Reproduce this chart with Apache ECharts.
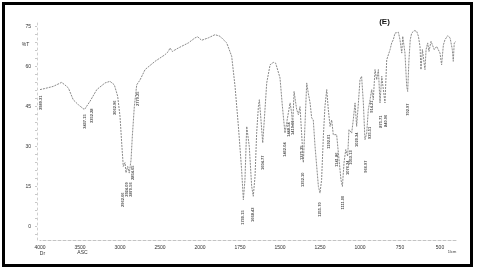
<!DOCTYPE html>
<html>
<head>
<meta charset="utf-8">
<script src="https://cdn.jsdelivr.net/npm/echarts@6/dist/echarts.min.js"></script>
<style>html,body{margin:0;padding:0;background:#fff}#c{width:478px;height:270px}</style>
</head>
<body>
<div id="c"></div>
<script>
// Wavenumber (1/cm) and %T of the spectrum trace
const wavenumber = [4000,3940,3835,3730,3690,3645,3585,3520,3445,3375,3290,3187,3125,3071,3029,3000,2979,2959,2937,2925,2904,2884,2862,2846,2821,2791,2750,2687,2562,2437,2396,2375,2346,2271,2146,2062,2029,
1990,1948,1906,1875,1833,1802,1781,1760,1740,1729,1719,1708,1702,1692,1677,1667,1656,1646,1635,1629,1619,1608,1598,1583,1562,1542,1527,1515,1500,1485,1469,1458,1448,1437,1427,1421,1412,1396,1385,1375,1365,1354,1344,1333,1323,1312,1302,1292,1281,1260,1250,1240,1229,1219,1208,1198,1187,1177,1167,1156,1146,1131,1119,1110,1100,1089,1083,1077,1069,1062,1052,1042,1031,1021,1010,1000,990,979,969,958,948,937,927,917,906,896,885,875,864,854,844,833,812,802,792,781,771,760,750,739,733,725,719,708,702,694,686,677,661,646,635,625,619,610,603,594,587,577,569,556,548,536,521,510,500,490,479,469,452,437,423,417,411,400];
const transmittance = [51.4,51.8,52.6,54.1,53.2,52.0,47.6,45.7,43.9,47.0,51.4,53.9,54.5,53.2,48.9,41.4,31.4,22.6,24.0,20.2,22.6,20.1,25.0,33.9,45.0,53.2,55.0,58.9,62.0,64.5,65.7,67.0,65.7,67.0,68.9,70.8,71.2,
69.9,70.8,72.0,71.4,68.9,63.9,52.6,37.6,21.4,10.1,17.6,37.6,38.2,30.0,15.1,11.4,18.9,35.0,45.1,47.6,40.1,31.4,40.1,53.9,60.7,61.6,61.3,60.7,55.8,45.1,35.1,39.0,42.6,46.4,42.6,37.6,50.7,44.0,42.0,45.0,35.0,24.0,38.0,53.9,50.0,46.4,40.8,40.0,30.1,15.1,12.6,17.6,33.9,45.1,51.4,43.9,37.6,40.0,34.5,35.1,34.5,25.1,17.6,15.1,23.9,28.9,29.5,26.4,36.4,37.0,35.1,40.1,46.4,37.6,46.4,55.1,56.4,46.4,32.6,35.1,43.9,47.6,51.4,47.6,58.9,55.1,58.9,46.4,56.4,57.0,46.4,62.6,66.4,68.9,70.1,72.6,72.0,72.9,70.1,65.1,71.4,71.8,65.1,52.6,50.7,62.6,70.1,72.6,73.5,73.3,71.4,67.6,58.9,66.4,67.0,58.9,66.4,68.9,65.7,69.5,68.9,66.4,67.6,67.2,65.1,60.7,68.1,70.1,71.6,70.8,66.4,62.0,68.9,69.5];

// Peak annotations (position in 1/cm and %T, and printed text)
const peakWn = [3985,3437,3350,3062,2775,2962,2912,2869,2837,1731,1669,1606,1469,1444,1419,1362,1356,1250,1194,1144,1106,1075,1056,1019,962,937,925,869,837,700];
const peakT  = [46.5,39.4,41.6,44.6,48.0,10.1,13.9,13.9,20.2,3.4,4.5,24.0,28.9,36.4,37.1,27.7,17.6,6.4,31.9,25.1,9.0,22.1,25.9,32.6,22.5,35.2,45.0,39.4,39.7,43.9];
const peakText = ['3989.31','3437.15','3352.28','3062.96','2779.25','2962.66','2924.09','2870.56','2854.65','1730.15','1668.43','1604.77','1462.04','1448.54','1419.61','1375.25','1352.10','1255.70','1192.01','1141.86','1111.00','1076.24','1053.13','1020.34','966.97','935.51','914.21','875.71','840.96','702.97'];

// Axis tick labels
const xTickValues = [4000,3500,3000,2500,2000,1750,1500,1250,1000,750,500];
const yTickValues = [0,15,30,45,60,75];

// Scale changes at 2000 1/cm (half scale above 2000)
const toU = w => w > 2000 ? 2000 + (w - 2000) / 2 : w;
const fromU = u => u > 2000 ? 2000 + (u - 2000) * 2 : u;

const lineData = wavenumber.map((w, i) => [toU(w), transmittance[i]]);
const peakData = peakWn.map((w, i) => ({ value: [toU(w), peakT[i]], name: peakText[i] }));
const yMinor = [];
for (let v = -3; v <= 75; v += 3) yMinor.push(v);

const chart = echarts.init(document.getElementById('c'), null, { renderer: 'canvas' });
chart.setOption({
  backgroundColor: '#fff',
  animation: false,
  grid: { left: 40, right: 22, top: 20, bottom: 30 },
  xAxis: {
    type: 'value', inverse: true, min: 400, max: 3000,
    axisLine: { show: true, onZero: false, lineStyle: { color: '#c4c4c4', width: 1, type: [3, 2] } },
    axisTick: { show: false },
    splitLine: { show: false },
    axisLabel: {
      customValues: xTickValues.map(toU),
      formatter: v => String(Math.round(fromU(v))),
      fontSize: 5, color: '#333', margin: 5, fontFamily: 'Liberation Sans'
    }
  },
  yAxis: {
    type: 'value', min: -5, max: 77.5, offset: 3,
    axisLine: { show: true, onZero: false, lineStyle: { color: '#cfcfcf', width: 1, type: [2, 3] } },
    axisTick: { show: true, customValues: yMinor, length: 2, lineStyle: { color: '#c8c8c8' } },
    splitLine: { show: false },
    axisLabel: { customValues: yTickValues, fontSize: 5, color: '#333', margin: 6, fontFamily: 'Liberation Sans' }
  },
  series: [
    {
      type: 'line', data: lineData, showSymbol: false, smooth: false,
      lineStyle: { color: '#8a8a8a', width: 1, type: [2, 1] }
    },
    {
      type: 'scatter', data: peakData, symbolSize: 1, itemStyle: { color: 'rgba(0,0,0,0)' },
      labelLayout: { hideOverlap: false },
      label: {
        show: true, position: 'inside', rotate: 90, formatter: p => p.name,
        fontSize: 4, fontWeight: 'bold', color: '#1a1a1a', fontFamily: 'Liberation Sans'
      }
    }
  ],
  graphic: [
    { type: 'rect', shape: { x: 3.5, y: 3.5, width: 468, height: 262 }, style: { fill: 'none', stroke: '#000', lineWidth: 3 } },
    { type: 'text', x: 384.5, y: 21.5, style: { text: '(E)', font: 'bold 8px Liberation Sans', fill: '#111', align: 'center', verticalAlign: 'middle' } },
    { type: 'text', x: 25.5, y: 44.5, style: { text: '%T', font: '5px Liberation Sans', fill: '#333', align: 'center', verticalAlign: 'middle' } },
    { type: 'text', x: 42.5, y: 253.5, style: { text: 'Dr', font: '5px Liberation Sans', fill: '#333', align: 'center', verticalAlign: 'middle' } },
    { type: 'text', x: 82.5, y: 253, style: { text: 'ASC', font: '5px Liberation Sans', fill: '#333', align: 'center', verticalAlign: 'middle' } },
    { type: 'text', x: 452, y: 251.5, style: { text: '1/cm', font: '4px Liberation Sans', fill: '#333', align: 'center', verticalAlign: 'middle' } }
  ]
});
</script>
</body>
</html>
